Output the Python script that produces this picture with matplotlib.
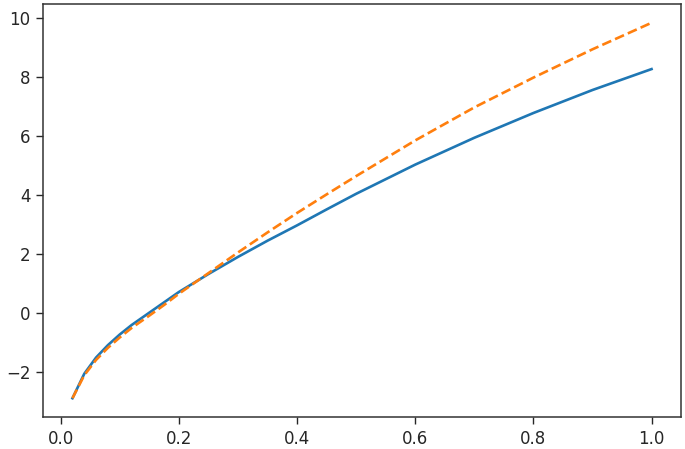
import matplotlib
matplotlib.use("Agg")
import matplotlib.pyplot as plt

x_vals = [0.02, 0.04, 0.06, 0.08, 0.10, 0.12, 0.15, 0.175, 0.2, 0.25, 0.3,
          0.35, 0.4, 0.45, 0.5, 0.6, 0.7, 0.8, 0.9, 1.0]
blue_vals = [-2.88, -2.05, -1.50, -1.08, -0.72, -0.40, 0.02, 0.37, 0.72, 1.33, 1.91,
             2.46, 2.98, 3.52, 4.05, 5.04, 5.95, 6.79, 7.57, 8.28]
orange_vals = [-2.88, -2.10, -1.58, -1.17, -0.82, -0.50, -0.08, 0.28, 0.66, 1.36, 2.06,
               2.74, 3.40, 4.03, 4.65, 5.86, 6.98, 7.99, 8.95, 9.85]

fig = plt.figure(figsize=(6.85, 4.49), dpi=100)
ax = fig.add_axes([43.5 / 685, 32 / 449, 637 / 685, 413 / 449])

ax.plot(x_vals, blue_vals, color="#1f77b4", linewidth=1.9)
ax.plot(x_vals, orange_vals, color="#ff7f0e", linewidth=1.9, linestyle="--")

ax.set_xticks([0.0, 0.2, 0.4, 0.6, 0.8, 1.0])
ax.set_yticks([-2, 0, 2, 4, 6, 8, 10])
ax.tick_params(labelsize=12, length=5, width=1.0, pad=4.5, colors="#262626")
for sp in ax.spines.values():
    sp.set_linewidth(1.1)
    sp.set_color("#333333")

fig.savefig("out.png", dpi=100)
